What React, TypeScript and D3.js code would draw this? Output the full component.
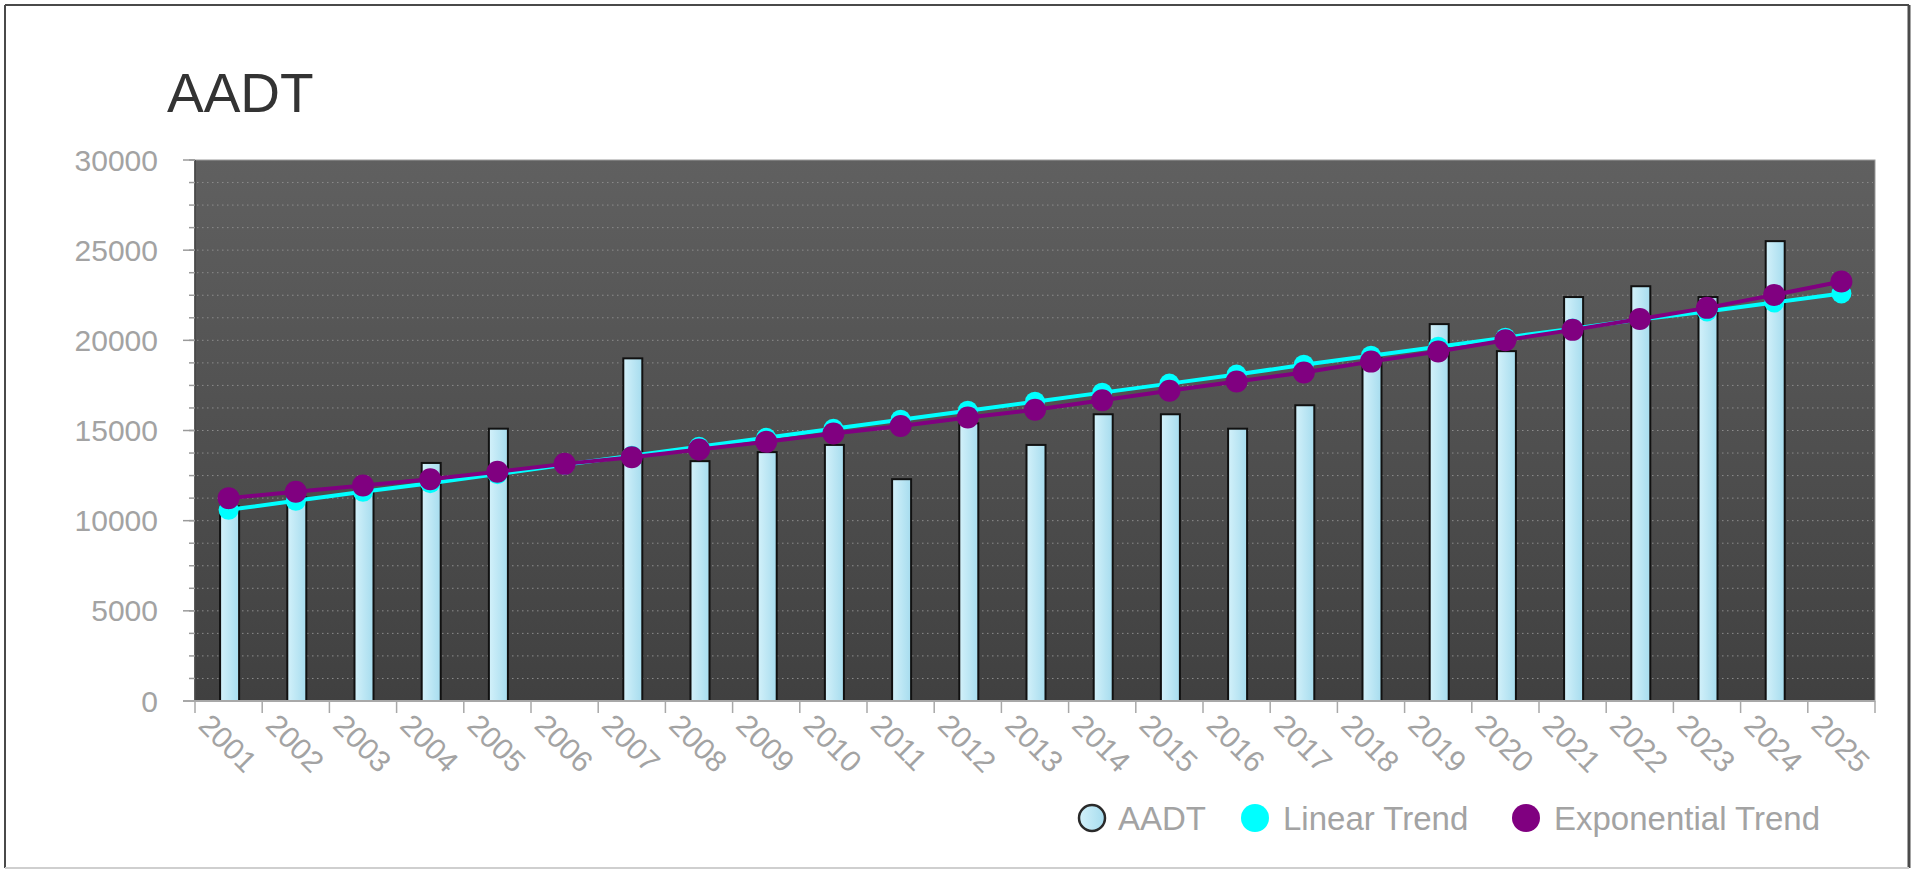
import React from "react";
import * as d3 from "d3";

const years: string[] = [
  "2001","2002","2003","2004","2005","2006","2007","2008","2009","2010","2011","2012","2013",
  "2014","2015","2016","2017","2018","2019","2020","2021","2022","2023","2024","2025",
];
const aadt: (number | null)[] = [
  10800, 11300, 11700, 13200, 15100, null, 19000, 13300, 13800, 14200, 12300, 15400, 14200,
  15900, 15900, 15100, 16400, 19000, 20900, 19400, 22400, 23000, 22400, 25500, null,
];
const linearTrend: number[] = [
  10600, 11100, 11600, 12080, 12580, 13100, 13600, 14100, 14600, 15100, 15600, 16100, 16600,
  17100, 17600, 18100, 18650, 19150, 19650, 20150, 20650, 21150, 21600, 22100, 22600,
];
const expTrend: number[] = [
  11250, 11600, 11950, 12300, 12710, 13150, 13520, 13950, 14370, 14830, 15250, 15720, 16150,
  16680, 17200, 17720, 18220, 18820, 19380, 20010, 20580, 21180, 21800, 22520, 23260,
];
const yMajorTicks: number[] = [0, 5000, 10000, 15000, 20000, 25000, 30000];
const legendItems: string[] = ["AADT", "Linear Trend", "Exponential Trend"];

const W = 1922;
const H = 870;
const PL = 195, PR = 1875, PT = 160, PB = 701;
const FONT = "'Liberation Sans', Arial, sans-serif";

export default function App() {
  const x = d3.scaleBand<string>().domain(years).range([PL, PR]).padding(0);
  const y = d3.scaleLinear().domain([0, 30000]).range([PB, PT]);
  const bw = x.bandwidth();
  const cx = (yr: string) => (x(yr) as number) + bw / 2;
  const minorTicks = d3.range(0, 30001, 1250);

  const lineGen = d3
    .line<number>()
    .x((_, i) => cx(years[i]))
    .y((d) => y(d));

  const barW = 19;
  const legendX = [1092, 1255, 1526];
  const legendTextX = [1118, 1283, 1554];
  const legendColors = ["url(#barGrad)", "#00ffff", "#800080"];

  return (
    <svg
      width={W}
      height={H}
      style={{ position: "absolute", left: 0, top: 0, background: "#fff" }}
      fontFamily={FONT}
    >
      <defs>
        <linearGradient id="plotGrad" x1="0" y1="0" x2="0" y2="1">
          <stop offset="0" stopColor="#606060" />
          <stop offset="1" stopColor="#404040" />
        </linearGradient>
        <linearGradient id="barGrad" x1="0" y1="0" x2="1" y2="0">
          <stop offset="0" stopColor="#d3f1fa" />
          <stop offset="1" stopColor="#a6dcee" />
        </linearGradient>
      </defs>

      {/* outer frame */}
      <rect x={1} y={1} width={W - 2} height={H - 2} fill="#fff" stroke="none" />
      <line x1={5} y1={5} x2={1909} y2={5} stroke="#4a4a4a" strokeWidth={2} />
      <line x1={5} y1={5} x2={5} y2={868} stroke="#4a4a4a" strokeWidth={2} />
      <line x1={1909} y1={5} x2={1909} y2={868} stroke="#4a4a4a" strokeWidth={3} />
      <line x1={5} y1={868} x2={1909} y2={868} stroke="#cfcfcf" strokeWidth={2} />

      {/* title */}
      <text x={167} y={112} fontSize={55} fill="#333">AADT</text>

      {/* plot background */}
      <rect x={PL} y={PT} width={PR - PL} height={PB - PT} fill="url(#plotGrad)" stroke="#9a9a9a" strokeWidth={1} />
      <line x1={PL} y1={PT} x2={PL} y2={PB} stroke="#3a3a3a" strokeWidth={1.5} />

      {/* grid lines */}
      {minorTicks
        .filter((t) => t > 0 && t < 30000)
        .map((t) => (
          <line
            key={"g" + t}
            x1={PL + 2}
            x2={PR - 2}
            y1={y(t)}
            y2={y(t)}
            stroke="#8c8c8c"
            strokeWidth={1}
            strokeDasharray="1.5,3.5"
          />
        ))}

      {/* y ticks */}
      {minorTicks.map((t) => (
        <line key={"mt" + t} x1={PL - 6} x2={PL} y1={y(t)} y2={y(t)} stroke="#9a9a9a" strokeWidth={1.5} />
      ))}
      {yMajorTicks.map((t) => (
        <g key={"yt" + t}>
          <line x1={PL - 12} x2={PL} y1={y(t)} y2={y(t)} stroke="#9a9a9a" strokeWidth={1.5} />
          <text
            x={158}
            y={y(t)}
            textAnchor="end"
            dominantBaseline="central"
            fontSize={30}
            fill="#a3a3a3"
          >
            {t}
          </text>
        </g>
      ))}

      {/* bars */}
      {years.map((yr, i) => {
        const v = aadt[i];
        if (v == null) return null;
        return (
          <rect
            key={"b" + yr}
            x={cx(yr) - barW / 2 + 1}
            y={y(v)}
            width={barW}
            height={PB - y(v)}
            fill="url(#barGrad)"
            stroke="#111"
            strokeWidth={2}
          />
        );
      })}

      {/* x axis */}
      <line x1={PL - 12} x2={PR} y1={PB} y2={PB} stroke="#a8a8a8" strokeWidth={2} />
      {[...years.map((yr) => x(yr) as number), PR].map((px, i) => (
        <line key={"xt" + i} x1={px} x2={px} y1={PB} y2={PB + 12} stroke="#a8a8a8" strokeWidth={1.5} />
      ))}
      {years.map((yr) => {
        const ax = (x(yr) as number) + 2;
        const ay = 727;
        return (
          <text
            key={"xl" + yr}
            x={ax}
            y={ay}
            fontSize={30}
            fill="#a3a3a3"
            transform={`rotate(45 ${ax} ${ay})`}
          >
            {yr}
          </text>
        );
      })}

      {/* linear trend */}
      <path d={lineGen(linearTrend) || ""} fill="none" stroke="#00ffff" strokeWidth={4} />
      {linearTrend.map((v, i) => (
        <circle key={"lc" + i} cx={cx(years[i])} cy={y(v)} r={10} fill="#00ffff" />
      ))}

      {/* exponential trend */}
      <path d={lineGen(expTrend) || ""} fill="none" stroke="#800080" strokeWidth={4} />
      {expTrend.map((v, i) => (
        <circle key={"ec" + i} cx={cx(years[i])} cy={y(v)} r={11} fill="#800080" />
      ))}

      {/* legend */}
      {legendItems.map((name, i) => (
        <g key={"lg" + name}>
          <circle
            cx={legendX[i]}
            cy={818}
            r={i === 0 ? 13 : 14}
            fill={legendColors[i]}
            stroke={i === 0 ? "#2a2a2a" : "none"}
            strokeWidth={2.5}
          />
          <text x={legendTextX[i]} y={830} fontSize={33} fill="#a3a3a3">
            {name}
          </text>
        </g>
      ))}
    </svg>
  );
}
